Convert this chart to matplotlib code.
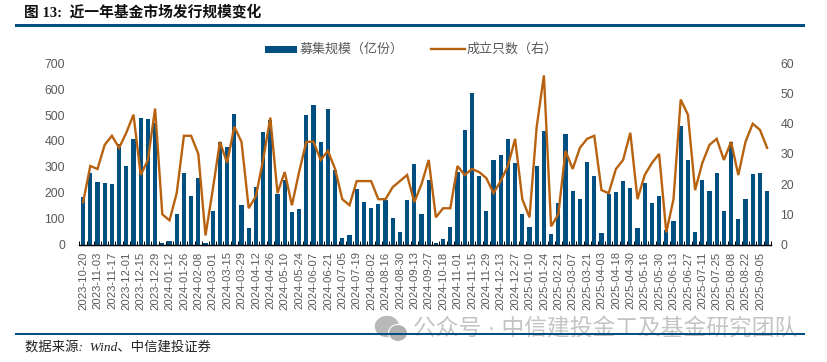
import matplotlib
matplotlib.use("Agg")
import matplotlib.pyplot as plt
from matplotlib.patches import Ellipse, Rectangle
from matplotlib.lines import Line2D
from matplotlib.ticker import MultipleLocator

tick_dates = ["2023-10-20","2023-11-03","2023-11-17","2023-12-01","2023-12-15","2023-12-29",
"2024-01-12","2024-01-26","2024-02-08","2024-03-01","2024-03-15","2024-03-29","2024-04-12",
"2024-04-26","2024-05-10","2024-05-24","2024-06-07","2024-06-21","2024-07-05","2024-07-19",
"2024-08-02","2024-08-16","2024-08-30","2024-09-13","2024-09-27","2024-10-18","2024-11-01",
"2024-11-15","2024-11-29","2024-12-13","2024-12-27","2025-01-10","2025-01-24","2025-02-21",
"2025-03-07","2025-03-21","2025-04-03","2025-04-18","2025-04-30","2025-05-16","2025-05-30",
"2025-06-13","2025-06-27","2025-07-11","2025-07-25","2025-08-08","2025-08-22","2025-09-05"]

scale = [184,277,241,238,234,390,302,407,487,483,470,7,15,118,277,187,255,5,130,397,375,505,152,63,
223,436,480,197,249,124,139,499,538,397,522,287,25,35,213,166,140,156,170,102,50,170,310,116,
249,4,21,68,281,441,584,264,130,327,344,407,313,116,66,304,437,41,162,427,207,177,317,264,
46,197,204,245,219,62,238,162,188,55,89,458,326,50,248,205,275,128,397,98,177,272,275,205]

count = [14,26,25,33,36,32,37,43,23,28,45,10,8,17,36,36,30,3,18,34,27,39,34,12,
16,28,42,17,24,13,24,34,34,28,31,25,15,13,21,21,21,15,15,19,21,23,14,20,
28,9,12,12,26,23,25,24,22,17,21,26,35,15,9,39,56,6,10,31,25,32,35,36,
18,17,25,28,37,15,23,27,30,4,15,48,43,18,27,33,35,28,34,23,34,40,38,32]

legend_labels = ["募集规模（亿份）", "成立只数（右）"]
title_text = "图 13:  近一年基金市场发行规模变化"
source_text = "数据来源:  Wind、中信建投证券"
watermark_text = "公众号 · 中信建投金工及基金研究团队"

W, H = 828, 362
BLUE = "#004F82"
ORANGE = "#B8620F"
GRAY = "#595959"
LATIN_CJK = ["Liberation Sans", "Noto Sans CJK SC"]
SERIF_CJK = ["Liberation Serif", "Noto Sans CJK SC"]

fig = plt.figure(figsize=(W / 100, H / 100), dpi=100, facecolor="white")
left, right, top, bottom = 79.5, 770.7, 63.3, 244.5
ax = fig.add_axes([left / W, 1 - bottom / H, (right - left) / W, (bottom - top) / H])
ax2 = ax.twinx()

x = list(range(len(scale)))
ax.bar(x, scale, width=0.56, color=BLUE, zorder=2)
ax2.plot(x, count, color=ORANGE, lw=1.7, solid_joinstyle="miter", zorder=3)

ax.set_xlim(-0.5, len(scale) - 0.5)
ax.set_ylim(0, 700)
ax2.set_ylim(0, 60)
ax.yaxis.set_major_locator(MultipleLocator(100))
ax2.yaxis.set_major_locator(MultipleLocator(10))

ax.set_xticks([i - 0.5 for i in range(len(scale) + 1)], minor=False, labels=[""] * (len(scale) + 1))
ax.set_xticks(x[::2], labels=tick_dates, minor=True, rotation=90,
              family="Liberation Sans", fontsize=8.1, color=GRAY)
ax.tick_params(axis="x", which="major", direction="in", length=3, width=0.7, color="black")
ax.tick_params(axis="x", which="minor", length=0, pad=5)
ax.tick_params(axis="y", length=0, pad=10.5, labelsize=8.8, labelcolor=GRAY)
ax2.tick_params(axis="y", length=0, pad=7, labelsize=8.8, labelcolor=GRAY)
for lab in ax.get_yticklabels() + ax2.get_yticklabels():
    lab.set_family("Liberation Sans")
for a in (ax, ax2):
    for name in ("top", "left", "right"):
        a.spines[name].set_visible(False)
    a.spines["bottom"].set_linewidth(0.9)
    a.spines["bottom"].set_color("black")

def px(xp, yp):
    return xp / W, 1 - yp / H

# Watermark sits below the rule lines
fig.text(*px(413, 329), watermark_text, family=LATIN_CJK, fontsize=16.4, color="#c4c4c4",
         va="center", ha="left", zorder=1)
fig.add_artist(Ellipse(px(387, 326.5), 23 / W, 20 / H, color="#b8b8b8", zorder=1))
fig.add_artist(Ellipse(px(398, 333), 19 / W, 17 / H, color="#b0b0b0", ec="white", lw=0.8, zorder=1))

fig.add_artist(Rectangle(px(15, 26.6), 790 / W, 2.8 / H, color=BLUE, lw=0, zorder=2))
fig.add_artist(Rectangle(px(15, 334.7), 790 / W, 2 / H, color=BLUE, lw=0, zorder=2))

fig.text(*px(24, 12), title_text, family=SERIF_CJK, fontsize=10.6, fontweight="bold",
         color="#111111", va="center", ha="left")
fig.text(*px(25, 347.5), source_text, family=SERIF_CJK, style="italic", fontsize=9.6,
         color="#222222", va="center", ha="left")

# Legend
fig.add_artist(Rectangle(px(265, 52.5), 32 / W, 7 / H, color=BLUE, lw=0))
fig.text(*px(300, 49.5), legend_labels[0], family=LATIN_CJK, fontsize=9.4, color=GRAY, va="center", ha="left")
fig.add_artist(Line2D([431 / W, 465 / W], [1 - 48.5 / H] * 2, color=ORANGE, lw=1.7))
fig.text(*px(467, 49.5), legend_labels[1], family=LATIN_CJK, fontsize=9.4, color=GRAY, va="center", ha="left")

fig.savefig("out.png", dpi=100)
